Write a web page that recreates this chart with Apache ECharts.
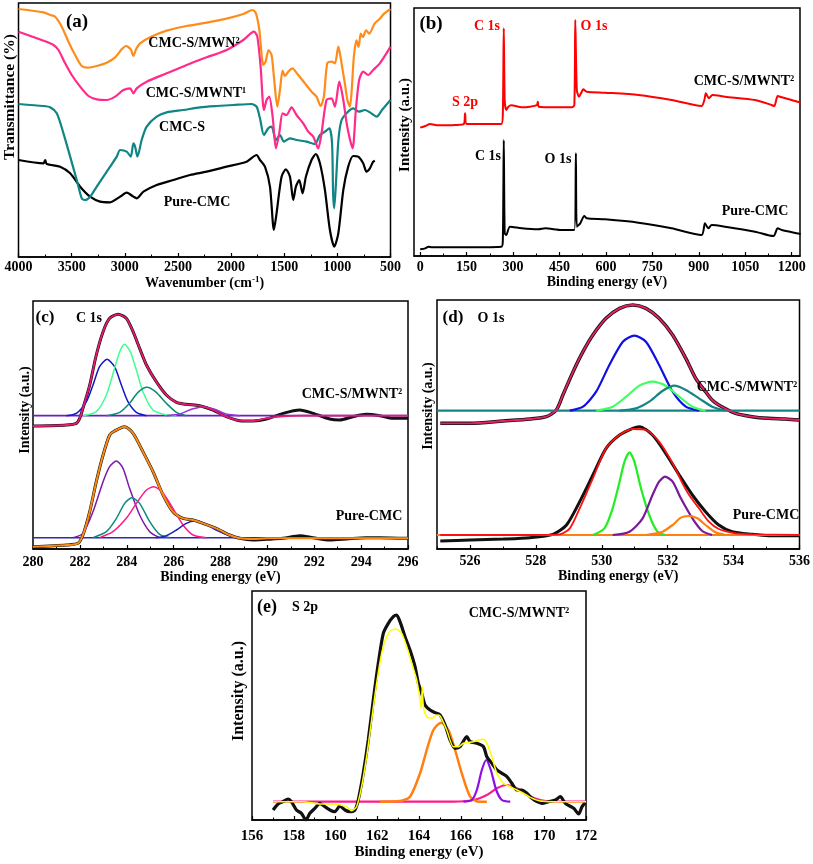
<!DOCTYPE html>
<html><head><meta charset="utf-8">
<script src="https://cdn.jsdelivr.net/npm/echarts@6/dist/echarts.min.js"></script>
<style>html,body{margin:0;padding:0;background:#fff}#c{width:813px;height:864px}</style>
</head><body><div id="c"></div>
<script>
// ---------- (a) FTIR: [wavenumber cm-1, transmittance (a.u. height)] ----------
const ftirMWN2 = [[4000,744],[3765,734],[3702,726],[3655,721],[3593,691],[3530,646],[3467,606],[3405,573],[3351,568],[3264,573],[3170,583],[3091,599],[3029,623],[2988,633],[2944,623],[2919,603],[2894,623],[2856,641],[2762,659],[2606,679],[2418,693],[2230,703],[2042,715],[1885,729],[1797,741],[1766,731],[1734,681],[1697,576],[1675,586],[1647,621],[1619,606],[1597,541],[1565,451],[1540,501],[1515,559],[1493,543],[1462,556],[1424,566],[1368,546],[1305,521],[1243,496],[1196,481],[1158,453],[1127,481],[1095,581],[1055,586],[1023,581],[991,631],[970,600],[950,560],[929,520],[905,470],[882,451],[865,500],[845,600],[820,650],[800,630],[780,670],[760,660],[730,680],[700,670],[650,700],[600,715],[560,730],[500,744]];
const ftirMWNT1 = [[4000,676],[3765,649],[3671,636],[3624,621],[3561,581],[3499,546],[3420,511],[3342,483],[3264,473],[3170,471],[3091,481],[3013,501],[2950,506],[2919,491],[2888,506],[2794,526],[2606,551],[2418,576],[2230,599],[2042,621],[1885,651],[1785,676],[1753,661],[1722,571],[1691,441],[1666,471],[1641,481],[1609,421],[1578,326],[1547,371],[1515,431],[1478,426],[1431,449],[1384,426],[1321,401],[1274,376],[1227,361],[1180,326],[1149,371],[1102,471],[1055,476],[1023,451],[982,526],[944,471],[907,391],[857,326],[826,441],[795,531],[757,556],[710,546],[663,561],[600,581],[538,611],[500,631]];
const ftirCMCS = [[4000,459],[3765,453],[3702,449],[3640,431],[3577,371],[3514,301],[3452,231],[3405,176],[3373,171],[3326,181],[3264,211],[3201,241],[3138,271],[3076,301],[3044,321],[2982,316],[2944,301],[2919,341],[2903,331],[2881,301],[2841,351],[2794,391],[2700,421],[2606,434],[2449,441],[2292,449],[2136,453],[1979,456],[1807,459],[1760,451],[1728,416],[1691,366],[1650,386],[1619,391],[1578,351],[1540,366],[1503,346],[1446,356],[1384,351],[1290,346],[1211,339],[1164,366],[1117,376],[1075,386],[1050,341],[1040,191],[1030,146],[1015,211],[990,351],[960,411],[900,436],[850,446],[800,436],[740,441],[680,431],[630,421],[580,441],[500,471]];
const ftirPure = [[4000,291],[3765,281],[3749,291],[3734,279],[3608,271],[3514,251],[3420,211],[3326,181],[3232,166],[3138,164],[3044,181],[2982,193],[2919,181],[2888,176],[2825,196],[2700,216],[2543,231],[2386,246],[2230,256],[2042,271],[1854,286],[1760,306],[1728,291],[1681,271],[1634,211],[1597,81],[1572,131],[1525,241],[1484,263],[1446,241],[1415,171],[1390,211],[1359,231],[1327,191],[1296,241],[1243,291],[1202,309],[1164,281],[1117,201],[1070,81],[1029,31],[991,71],[944,201],[898,271],[851,303],[804,301],[757,281],[726,256],[694,266],[663,286],[647,289]];
const ftirTicks = [500,4000,500];

// ---------- (b) XPS survey: [binding energy eV, intensity] ----------
const surveyMWNT2 = [[0,385],[16,390],[32,396],[59,392],[113,393],[141,396],[145,428],[150,396],[221,396],[262,396],[267,428],[270,683],[273,468],[278,438],[285,448],[294,452],[328,446],[355,448],[377,453],[380,463],[383,448],[436,446],[490,446],[498,453],[501,708],[506,498],[513,478],[522,493],[527,500],[538,493],[597,490],[705,483],[812,468],[909,450],[918,468],[923,488],[933,473],[944,483],[985,478],[1082,468],[1135,453],[1144,450],[1155,480],[1168,476],[1200,468],[1229,460]];
const surveyPure = [[0,20],[16,23],[27,28],[38,26],[113,26],[262,28],[267,48],[270,348],[273,68],[278,63],[290,88],[328,83],[382,80],[404,83],[457,78],[498,78],[503,308],[506,88],[517,98],[530,120],[538,113],[597,110],[705,100],[812,83],[909,63],[920,98],[931,83],[942,93],[985,88],[1082,73],[1141,60],[1155,83],[1168,78],[1229,66]];
const surveyTicks = [0,150,300,450,600,750,900,1050,1200];
const surveyMinor = [75,225,375,525,675,825,975,1125];

// ---------- (c) C 1s ----------
const c1Data = [[280,369],[281.42,372],[281.85,377],[281.99,392],[282.13,422],[282.42,492],[282.70,582],[282.99,652],[283.27,692],[283.63,704],[283.98,692],[284.27,652],[284.55,602],[284.84,552],[285.26,502],[285.69,462],[286.12,440],[286.54,434],[287.11,430],[287.68,417],[288.25,397],[288.82,385],[289.39,384],[289.96,390],[290.67,407],[291.38,417],[291.95,407],[292.66,390],[293.08,387],[293.65,397],[294.22,404],[294.79,400],[295.36,392],[296,392]];
const c1Fit = [[280,369],[281.42,372],[281.85,377],[281.99,392],[282.13,422],[282.42,492],[282.70,582],[282.99,652],[283.27,692],[283.63,704],[283.98,692],[284.27,652],[284.55,602],[284.84,552],[285.26,502],[285.69,462],[286.12,440],[286.54,434],[287.11,430],[287.68,417],[288.25,397],[288.82,385],[289.39,384],[289.96,392],[290.67,398],[291.38,400],[296,400]];
const c1Base = [[280,400],[296,400]];
const c1Blue = [[281.42,400],[281.85,407],[282.28,442],[282.56,492],[282.84,547],[283.16,569],[283.48,547],[283.77,492],[284.05,442],[284.41,410],[284.84,400]];
const c1Green = [[282.13,400],[282.70,412],[283.13,462],[283.48,542],[283.70,592],[283.91,614],[284.15,592],[284.41,537],[284.69,472],[285.12,417],[285.69,402],[286.12,400]];
const c1Teal = [[283.13,400],[283.70,410],[284.12,437],[284.48,470],[284.86,485],[285.26,470],[285.69,437],[286.12,410],[286.54,400]];
const c1Purple = [[285.69,400],[286.26,405],[286.76,419],[287.25,427],[287.75,419],[288.25,405],[288.82,400]];
const c2Data = [[280,7],[281.42,12],[281.92,17],[282.13,42],[282.42,112],[282.70,202],[282.99,282],[283.27,342],[283.48,354],[283.91,367],[284.27,347],[284.69,292],[285.12,232],[285.55,162],[285.97,112],[286.40,92],[286.83,87],[287.25,77],[287.82,62],[288.39,42],[288.82,32],[289.39,27],[289.96,29],[290.67,32],[291.38,40],[291.95,34],[292.66,27],[293.37,30],[294.22,34],[294.79,34],[296,32]];
const c2Fit = [[280,7],[281.42,12],[281.92,17],[282.13,42],[282.42,112],[282.70,202],[282.99,282],[283.27,342],[283.48,354],[283.91,367],[284.27,347],[284.69,292],[285.12,232],[285.55,162],[285.97,112],[286.40,92],[286.83,87],[287.25,77],[287.82,62],[288.39,42],[288.82,32],[289.39,30],[290,32],[296,32]];
const c2Base = [[280,34],[296,34]];
const c2Purple = [[281.71,34],[282.13,47],[282.56,112],[282.99,202],[283.27,247],[283.56,264],[283.84,242],[284.12,182],[284.55,102],[284.98,52],[285.40,34]];
const c2Teal = [[282.56,34],[283.13,52],[283.56,92],[283.91,137],[284.22,154],[284.55,137],[284.98,82],[285.40,44],[285.83,34]];
const c2Pink = [[282.84,34],[283.41,52],[283.98,92],[284.41,137],[284.84,177],[285.15,187],[285.55,167],[285.97,122],[286.40,72],[286.83,42],[287.40,34]];
const c2Blue = [[285.26,34],[285.69,40],[286.12,57],[286.54,77],[286.90,84],[287.32,77],[287.82,57],[288.39,40],[288.82,34]];

// ---------- (d) O 1s ----------
const d1Data = [[525.10,377],[526.01,377],[527.01,384],[527.82,390],[528.32,397],[528.62,417],[528.82,462],[529.13,532],[529.43,592],[529.73,642],[530.13,692],[530.54,722],[530.94,732],[531.34,722],[531.74,692],[532.15,642],[532.55,572],[532.85,512],[533.15,472],[533.35,447],[533.55,432],[534.06,407],[534.56,397],[535.06,392],[535.57,390],[536,387]];
const d1Base = [[525,415],[536,415]];
const d1Blue = [[529.03,415],[529.43,427],[529.83,472],[530.23,552],[530.64,622],[530.99,640],[531.34,622],[531.74,552],[532.15,472],[532.55,427],[532.95,415]];
const d1Green = [[529.83,415],[530.33,427],[530.74,457],[531.14,490],[531.54,502],[531.94,490],[532.35,457],[532.75,427],[533.15,415]];
const d1Teal = [[530.54,415],[531.04,422],[531.44,442],[531.84,474],[532.20,490],[532.55,477],[532.95,452],[533.35,427],[533.76,415]];
const d2Data = [[525.10,24],[526.01,27],[527.01,30],[527.82,34],[528.52,44],[528.93,72],[529.33,142],[529.73,222],[530.13,302],[530.54,342],[530.94,362],[531.14,367],[531.54,342],[531.94,287],[532.35,222],[532.75,162],[533.15,112],[533.55,72],[533.96,52],[534.56,44],[535.06,40],[536,40]];
const d2Fit = [[525.10,42],[527.52,42],[528.72,44],[529.03,62],[529.33,122],[529.73,212],[530.13,302],[530.54,342],[530.94,360],[531.34,357],[531.74,322],[532.15,257],[532.45,197],[532.65,162],[532.95,122],[533.25,82],[533.55,60],[534.06,47],[534.56,44],[536,42]];
const d2Base = [[525,42],[536,42]];
const d2Green = [[529.73,42],[530.08,62],[530.33,122],[530.54,202],[530.69,262],[530.84,290],[530.99,262],[531.19,182],[531.44,102],[531.69,52],[531.94,42]];
const d2Purple = [[530.33,42],[530.84,52],[531.24,92],[531.54,162],[531.74,202],[531.92,217],[532.15,202],[532.40,152],[532.75,92],[533.05,54],[533.35,42]];
const d2Orange = [[531.34,42],[531.84,52],[532.15,72],[532.40,94],[532.63,99],[532.90,92],[533.15,72],[533.45,50],[533.76,42]];
const o1sTicks = [526,528,530,532,534,536];
const o1sMinor = [525,527,529,531,533,535];

// ---------- (e) S 2p ----------
const eData = [[157.01,30],[157.25,48],[157.49,55],[157.73,63],[157.89,55],[158.13,30],[158.37,20],[158.58,0],[158.77,20],[159.01,35],[159.25,50],[159.49,40],[159.73,30],[159.97,25],[160.21,42],[160.45,30],[160.69,25],[160.93,30],[161.09,60],[161.33,140],[161.57,240],[161.81,360],[162.05,470],[162.29,560],[162.53,590],[162.77,610],[162.93,615],[163.09,595],[163.33,550],[163.57,510],[163.81,460],[163.97,410],[164.13,380],[164.29,345],[164.53,330],[164.77,322],[165.01,315],[165.25,285],[165.49,240],[165.73,215],[165.97,220],[166.29,250],[166.45,235],[166.77,230],[167.09,220],[167.25,190],[167.49,170],[167.73,150],[167.97,140],[168.21,130],[168.45,110],[168.69,90],[168.93,90],[169.17,80],[169.41,65],[169.65,55],[169.89,50],[170.21,55],[170.53,60],[170.77,70],[171.01,50],[171.41,35],[171.65,18],[171.81,40],[171.97,52]];
const eFit = [[157.01,55],[158.45,55],[159.25,48],[159.89,48],[160.53,40],[160.77,28],[161.01,40],[161.25,100],[161.49,190],[161.73,300],[161.97,410],[162.21,500],[162.45,550],[162.69,570],[162.93,572],[163.17,560],[163.41,520],[163.65,470],[163.89,420],[164.05,360],[164.10,335],[164.16,400],[164.21,340],[164.37,310],[164.61,305],[164.85,315],[165.01,312],[165.33,270],[165.65,220],[165.89,220],[166.13,230],[166.61,235],[167.09,242],[167.25,230],[167.49,190],[167.73,140],[168.05,110],[168.37,100],[168.69,90],[169.01,80],[169.33,68],[169.81,57],[170.45,55],[172,55]];
const eOrange = [[162.13,55],[163.09,57],[163.57,70],[164.05,140],[164.37,210],[164.69,270],[165.06,292],[165.41,270],[165.73,210],[166.05,140],[166.45,70],[166.85,55],[167.25,55]];
const ePurple = [[166.13,55],[166.53,60],[166.77,90],[167.01,150],[167.22,180],[167.44,150],[167.70,90],[167.97,60],[168.37,55]];
const ePink = [[157.01,55],[165.65,55],[166.61,60],[167.25,75],[167.73,95],[168.18,105],[168.69,95],[169.17,75],[169.81,60],[170.45,55],[172,55]];

// ---------- chart ----------
const FONT = '"Liberation Serif","Times New Roman",serif';
const chart = echarts.init(document.getElementById('c'), null, {renderer:'canvas'});

const grids = [
  {left:18.5, top:3, width:372, height:254},
  {left:414, top:8, width:386, height:248},
  {left:33, top:301, width:375, height:248},
  {left:437, top:300, width:364, height:249},
  {left:252, top:591, width:334, height:229}
].map(g => Object.assign({show:true, borderColor:'#000', borderWidth:1.5, containLabel:false}, g));

const yMax = [762, 744, 744, 747, 687];
const plain = v => String(v);

function lab(fs, margin, extra) {
  return Object.assign({color:'#000', fontFamily:FONT, fontWeight:'bold', fontSize:fs, margin:margin,
    showMinLabel:true, showMaxLabel:true, hideOverlap:false, formatter:plain}, extra || {});
}
function xAx(i, o) {
  const fs = i === 4 ? 15 : 14;
  return Object.assign({
    type:'value', gridIndex:i, position:'bottom',
    axisLine:{show:true, onZero:false, lineStyle:{color:'#000', width:1.5}},
    axisTick:{show:true, inside:true, length:4, lineStyle:{color:'#000', width:1.2}},
    minorTick:{show:true, splitNumber:2, length:2.5, lineStyle:{color:'#000', width:1}},
    splitLine:{show:false}, minorSplitLine:{show:false},
    axisLabel:lab(fs, 3),
    nameLocation:'middle', nameGap:12,
    nameTextStyle:{color:'#000', fontFamily:FONT, fontWeight:'bold', fontSize:fs}
  }, o);
}
const xAxes = [
  xAx(0, {min:ftirTicks[0], max:ftirTicks[1], interval:ftirTicks[2], inverse:true, name:'Wavenumber (cm{sup|-1})',
    axisLabel:lab(14, 3), nameGap:12,
    nameTextStyle:{color:'#000', fontFamily:FONT, fontWeight:'bold', fontSize:14, lineHeight:16,
      rich:{sup:{fontFamily:FONT, fontWeight:'bold', fontSize:9, lineHeight:16, verticalAlign:'top', padding:[0,0,8,0]}}}}),
  xAx(1, {min:-20, max:1227, name:'Binding energy (eV)', minorTick:{show:false}, nameGap:12,
    axisTick:{show:true, inside:true, length:4, customValues:surveyTicks, lineStyle:{color:'#000', width:1.2}},
    axisLabel:lab(14, 4, {customValues:surveyTicks})}),
  xAx(2, {min:280, max:296, interval:2, name:'Binding energy (eV)', axisLabel:lab(14, 6), nameGap:19}),
  xAx(3, {min:525, max:536, interval:2, name:'Binding energy (eV)', minorTick:{show:false}, nameGap:18,
    axisTick:{show:true, inside:true, length:4, customValues:o1sTicks, lineStyle:{color:'#000', width:1.2}},
    axisLabel:lab(14, 5, {customValues:o1sTicks})}),
  xAx(4, {min:156, max:172, interval:2, name:'Binding energy (eV)', axisLabel:lab(15, 9), nameGap:25}),
  // minor tick helpers for (b) and (d)
  xAx(1, {min:-20, max:1227, minorTick:{show:false}, axisLine:{show:false},
    axisTick:{show:true, inside:true, length:2.5, customValues:surveyMinor, lineStyle:{color:'#000', width:1}},
    axisLabel:{show:false}}),
  xAx(3, {min:525, max:536, minorTick:{show:false}, axisLine:{show:false},
    axisTick:{show:true, inside:true, length:2.5, customValues:o1sMinor, lineStyle:{color:'#000', width:1}},
    axisLabel:{show:false}})
];
const yAxes = yMax.map((m, i) => ({type:'value', gridIndex:i, min:0, max:m,
  axisLine:{show:false}, axisTick:{show:false}, axisLabel:{show:false}, splitLine:{show:false}}));

function L(i, data, color, width, z) {
  return {type:'line', xAxisIndex:i, yAxisIndex:i, data:data, showSymbol:false, symbol:'none',
    smooth:0.25, lineStyle:{color:color, width:width}, itemStyle:{color:color}, z:z||2, silent:true, animation:false, clip:true};
}

const series = [
  L(0, ftirPure, '#000000', 2.2, 2),
  L(0, ftirCMCS, '#108585', 2.2, 3),
  L(0, ftirMWNT1, '#ff2a8a', 2.2, 4),
  L(0, ftirMWN2, '#ff8c1a', 2.2, 5),
  L(1, surveyMWNT2, '#ff0000', 2, 2),
  L(1, surveyPure, '#000000', 2, 2),
  L(2, c1Data, '#111111', 3, 2),
  L(2, c1Base, '#6a20c0', 1.8, 3),
  L(2, c1Blue, '#1515c8', 1.5, 4),
  L(2, c1Green, '#40ff90', 1.5, 4),
  L(2, c1Teal, '#0a8a78', 1.5, 4),
  L(2, c1Purple, '#9a30d8', 1.5, 4),
  L(2, c1Fit, '#e8196f', 1.8, 5),
  L(2, c2Data, '#111111', 3, 2),
  L(2, c2Base, '#2a2ab0', 1.5, 3),
  L(2, c2Purple, '#7a1aa8', 1.5, 4),
  L(2, c2Teal, '#0a8a80', 1.5, 4),
  L(2, c2Pink, '#ff1a8a', 1.5, 4),
  L(2, c2Blue, '#2020b0', 1.5, 4),
  L(2, c2Fit, '#ff8a10', 2, 5),
  L(3, d1Data, '#111111', 3.5, 2),
  L(3, d1Base, '#138585', 2.2, 3),
  L(3, d1Blue, '#1010e0', 2.2, 4),
  L(3, d1Green, '#40ff60', 2.2, 4),
  L(3, d1Teal, '#138585', 2.2, 4),
  L(3, d1Data, '#e8206a', 1.8, 5),
  L(3, d2Data, '#111111', 3, 2),
  L(3, d2Base, '#ff8010', 2.2, 3),
  L(3, d2Green, '#22ee22', 2.2, 4),
  L(3, d2Purple, '#7a1a9a', 2.2, 4),
  L(3, d2Orange, '#ff8010', 2.2, 4),
  L(3, d2Fit, '#ff1010', 1.8, 5),
  L(4, ePink, '#ff1a8a', 2.2, 3),
  L(4, eOrange, '#ff8010', 2.5, 4),
  L(4, ePurple, '#8a10e6', 2.2, 4),
  L(4, eData, '#111111', 3.2, 5),
  L(4, eFit, '#ffff00', 1.5, 6)
];

function T(text, x, y, size, color, rot) {
  return {type:'text', x:x, y:y, rotation:rot||0, z:100, silent:true,
    style:{text:text, fill:color||'#000', font:'bold ' + size + 'px ' + FONT, textAlign:'center', textVerticalAlign:'middle'}};
}
const R = Math.PI/2;
const graphics = [
  T('Transmittance (%)', 10, 97, 15.5, '#000', R),
  T('Intensity (a.u.)', 405, 125, 15, '#000', R),
  T('Intensity (a.u.)', 25, 410, 14, '#000', R),
  T('Intensity (a.u.)', 428, 406, 14, '#000', R),
  T('Intensity (a.u.)', 239, 691, 16, '#000', R),
  T('(a)', 77, 22, 19),
  T('CMC-S/MWN\u00B2', 194, 43, 14),
  T('CMC-S/MWNT\u00B9', 196, 93, 14),
  T('CMC-S', 182, 127, 14),
  T('Pure-CMC', 197, 202, 14),
  T('(b)', 431, 24, 19),
  T('C 1s', 487, 26, 14, '#ff0000'),
  T('O 1s', 594, 26, 14, '#ff0000'),
  T('S 2p', 465, 102, 14, '#ff0000'),
  T('CMC-S/MWNT\u00B2', 744, 81, 14),
  T('C 1s', 488, 156, 14),
  T('O 1s', 558, 159, 14),
  T('Pure-CMC', 755, 211, 14),
  T('(c)', 45, 318, 17),
  T('C 1s', 89, 318, 14),
  T('CMC-S/MWNT\u00B2', 352, 394, 14),
  T('Pure-CMC', 369, 516, 14),
  T('(d)', 453, 318, 17),
  T('O 1s', 491, 318, 14),
  T('CMC-S/MWNT\u00B2', 747, 387, 14),
  T('Pure-CMC', 766, 515, 14),
  T('(e)', 267, 607, 18),
  T('S 2p', 305, 607, 14),
  T('CMC-S/MWNT\u00B2', 519, 613, 14)
];

chart.setOption({
  backgroundColor:'#ffffff',
  animation:false,
  grid:grids, xAxis:xAxes, yAxis:yAxes, series:series, graphic:graphics
});
</script></body></html>
